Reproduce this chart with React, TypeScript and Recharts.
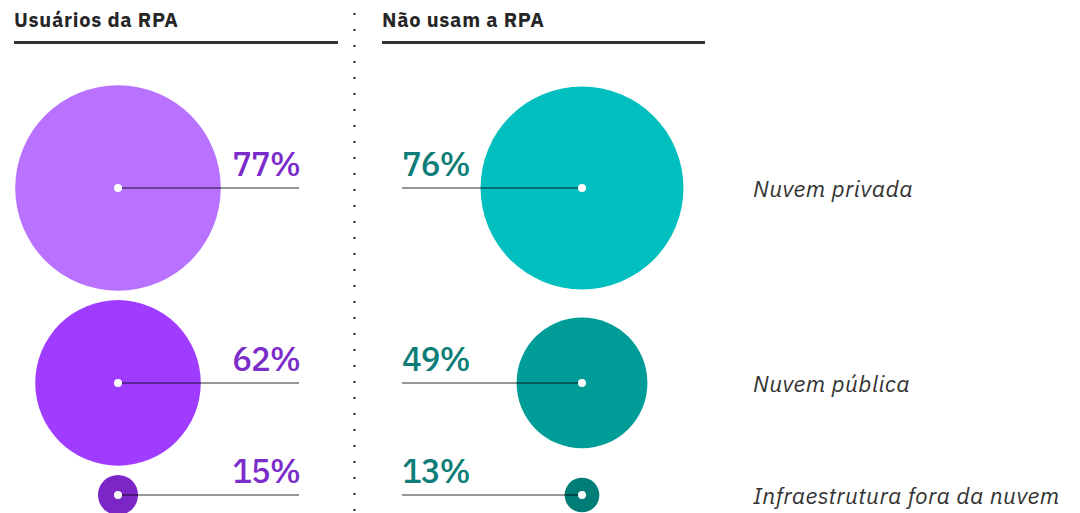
import { ScatterChart, Scatter, XAxis, YAxis, ZAxis } from 'recharts'

const groups = ['Usuários da RPA', 'Não usam a RPA']
const categories = ['Nuvem privada', 'Nuvem pública', 'Infraestrutura fora da nuvem']
const rpaUsers = [77, 62, 15]
const nonUsers = [76, 49, 13]

const W = 1080
const H = 513
const PX = 1.335 // px por ponto percentual (raio)
const TOP = 63.8
const GAP = 7
const FONT = "'IBM Plex Sans', 'Noto Sans', sans-serif"

const leftColors = ['#b972ff', '#a03cff', '#7c26c8']
const rightColors = ['#01bfbe', '#009d98', '#017d78']
const LEFT_TEXT = '#7b2cc9'
const RIGHT_TEXT = '#0e7d78'

// centro de cada linha empilhado pela maior bolha da linha
const rowY: number[] = []
let bottom = TOP - GAP
categories.forEach((_, i) => {
  const m = Math.max(rpaUsers[i], nonUsers[i])
  const c = bottom + GAP + m
  rowY.push(c)
  bottom = c + m
})

const leftData = rpaUsers.map((v, i) => ({ x: 0, y: rowY[i], z: v * v, value: v, row: i }))
const rightData = nonUsers.map((v, i) => ({ x: 1, y: rowY[i], z: v * v, value: v, row: i }))

function LeftBubble(props: any) {
  const { cx, cy, width, payload } = props
  const end = cx + 181
  return (
    <g>
      <circle cx={cx} cy={cy} r={width / 2} fill={leftColors[payload.row]} />
      <line x1={cx} y1={cy} x2={end} y2={cy} stroke="#000" strokeOpacity={0.55} strokeWidth={1.5} />
      <circle cx={cx} cy={cy} r={4} fill="#fff" />
      <text x={end + 1} y={cy - 12} textAnchor="end" fontFamily={FONT} fontSize={33} fontWeight={500}
        letterSpacing={-1} fill={LEFT_TEXT}>
        {payload.value}%
      </text>
    </g>
  )
}

function RightBubble(props: any) {
  const { cx, cy, width, payload } = props
  const start = cx - 180
  return (
    <g>
      <circle cx={cx} cy={cy} r={width / 2} fill={rightColors[payload.row]} />
      <line x1={start} y1={cy} x2={cx} y2={cy} stroke="#000" strokeOpacity={0.55} strokeWidth={1.5} />
      <circle cx={cx} cy={cy} r={4} fill="#fff" />
      <text x={start} y={cy - 12} textAnchor="start" fontFamily={FONT} fontSize={33} fontWeight={500}
        letterSpacing={-1} fill={RIGHT_TEXT}>
        {payload.value}%
      </text>
      <text x={cx + 171} y={cy + 9} fontFamily={FONT} fontSize={23} fontStyle="italic" letterSpacing={0.4} fill="#333">
        {categories[payload.row]}
      </text>
    </g>
  )
}

export default function App() {
  return (
    <div style={{ position: 'absolute', left: 0, top: 0, width: W, height: H, background: '#fff' }}>
      <ScatterChart width={W} height={H} margin={{ top: 0, right: 498, bottom: 0, left: 118 }}>
        <XAxis type="number" dataKey="x" domain={[0, 1]} hide />
        <YAxis type="number" dataKey="y" domain={[0, H / PX]} reversed hide />
        <ZAxis type="number" dataKey="z" domain={[0, 10000]} range={[0, Math.PI * (100 * PX) ** 2]} />
        <Scatter data={leftData} shape={LeftBubble} isAnimationActive={false} />
        <Scatter data={rightData} shape={RightBubble} isAnimationActive={false} />
      </ScatterChart>
      <svg width={W} height={H} style={{ position: 'absolute', left: 0, top: 0, pointerEvents: 'none' }}>
        <text x={14} y={27} fontFamily={FONT} fontSize={20} fontWeight={700} letterSpacing={0.7} fill="#262626">{groups[0]}</text>
        <rect x={14} y={41} width={324} height={3} fill="#333" />
        <text x={382} y={27} fontFamily={FONT} fontSize={20} fontWeight={700} letterSpacing={0.7} fill="#262626">{groups[1]}</text>
        <rect x={382} y={41} width={323} height={3} fill="#333" />
        <line x1={354.5} y1={13} x2={354.5} y2={H} stroke="#222" strokeWidth={2} strokeDasharray="2 14" />
      </svg>
    </div>
  )
}
